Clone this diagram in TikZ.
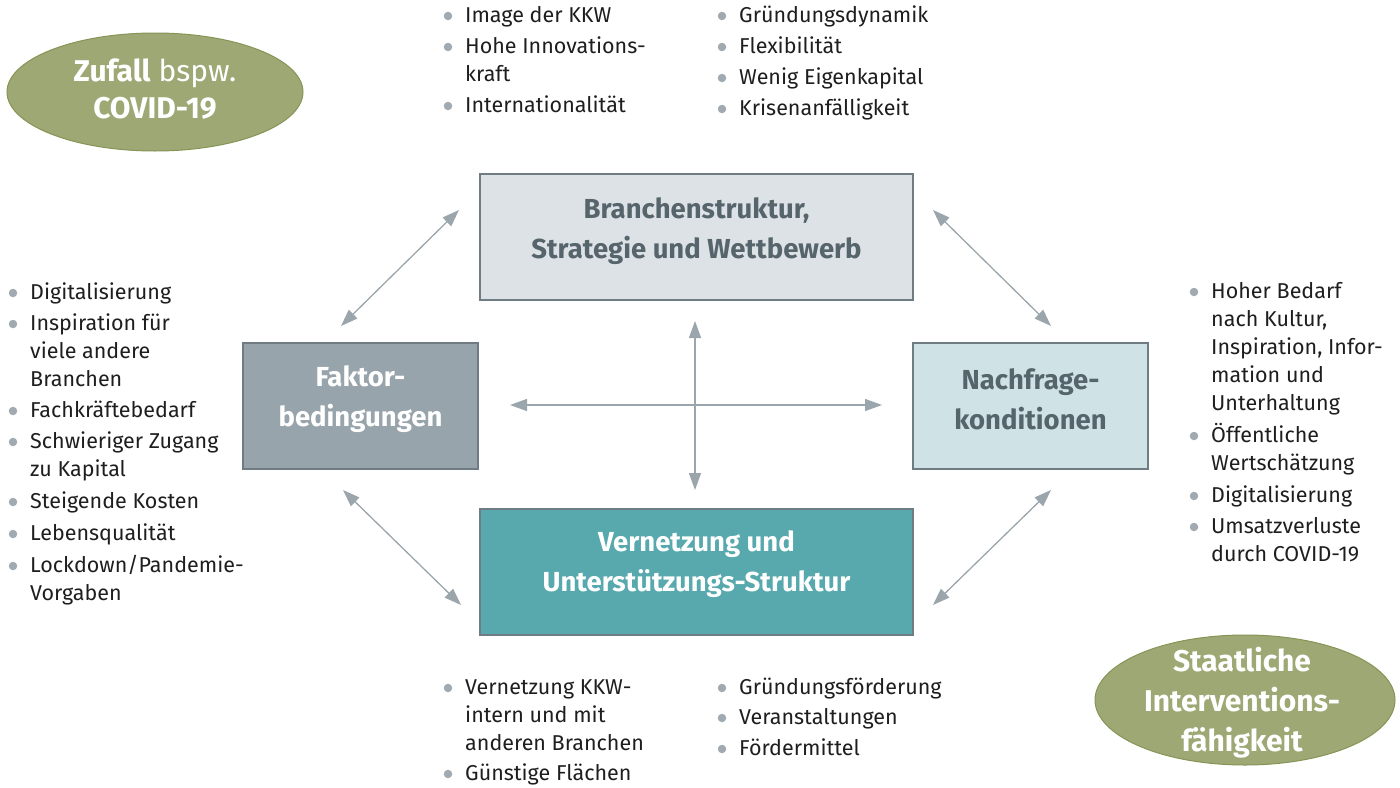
\documentclass[tikz,border=0pt]{standalone}
\usepackage{fontspec}
\setmainfont{Fira Sans}
\usetikzlibrary{arrows.meta,shapes.geometric}
\definecolor{arrowc}{HTML}{9AA5AC}
\definecolor{bulc}{HTML}{A0AAB0}
\definecolor{topfill}{HTML}{DDE2E6}
\definecolor{leftfill}{HTML}{98A4AB}
\definecolor{rightfill}{HTML}{CFE2E6}
\definecolor{botfill}{HTML}{57A9AE}
\definecolor{boxline}{HTML}{6F7C83}
\definecolor{boxtext}{HTML}{56646B}
\definecolor{ellfill}{HTML}{9EA874}
\definecolor{ellline}{HTML}{869455}
\definecolor{listtext}{HTML}{1E1E1E}
\newcommand\litem[4]{%
  \node[bul] (#1b) at ({#2-17},{#3+1}) {};
  \node[itm] (#1) at (#2,{#3+7-19.6}) {\strut #4};}
\tikzset{
  bul/.style={circle,fill=bulc,minimum size=8.5pt,inner sep=0pt},
  itm/.style={anchor=north west,inner sep=0pt,align=left,text=listtext,font=\fontsize{21.5}{28}\selectfont},
  porter/.style={draw=boxline,line width=1.2pt,minimum width=433pt,minimum height=126pt},
  smallbox/.style={porter,minimum width=235pt},
  boxlabel/.style={align=center,font=\fontsize{27.5}{40}\selectfont\bfseries},
  oval/.style={ellipse,draw=ellline,line width=1pt,fill=ellfill,inner sep=0pt},
  dbl/.style={arrowc,line width=1.3pt,{Triangle[length=17pt,width=12pt]}-{Triangle[length=17pt,width=12pt]}}
}
\begin{document}
\begin{tikzpicture}[x=1pt,y=-1pt]
\useasboundingbox (0,0) rectangle (1400,787);
% boxes
\node[porter,fill=topfill] (top) at (696.5,237) {};
\node[boxlabel,text=boxtext] (topt) at (696.5,231) {Branchenstruktur,\\Strategie und Wettbewerb};
\node[porter,fill=botfill] (bot) at (696.5,572) {};
\node[boxlabel,text=white] (bott) at (696.5,564) {Vernetzung und\\Unterstützungs-Struktur};
\node[smallbox,fill=leftfill] (left) at (360.5,406) {};
\node[boxlabel,text=white] (leftt) at (360.5,399) {Faktor-\\bedingungen};
\node[smallbox,fill=rightfill] (right) at (1030.5,406) {};
\node[boxlabel,text=boxtext] (rightt) at (1030.5,399) {Nachfrage-\\konditionen};
% ellipses
\node[oval,minimum width=296pt,minimum height=118pt] (zufall) at (155,92) {};
\node[text=white,align=center,font=\fontsize{30}{37}\selectfont] (zufallt) at (155,89) {\textbf{Zufall} bspw.\\\textbf{COVID-19}};
\node[oval,minimum width=300pt,minimum height=130pt] (staat) at (1245,700) {};
\node[text=white,align=center,font=\fontsize{30}{40}\selectfont\bfseries] (staatt) at (1242,703) {Staatliche\\Interventions-\\fähigkeit};
% arrow end points
\coordinate (tl1) at (459,210); \coordinate (tl2) at (341,326);
\coordinate (tr1) at (933,210); \coordinate (tr2) at (1051,326);
\coordinate (bl1) at (343,490); \coordinate (bl2) at (461,605);
\coordinate (br1) at (1051,490); \coordinate (br2) at (933,605);
\coordinate (h1) at (510,405); \coordinate (h2) at (882,405);
\coordinate (v1) at (695,321); \coordinate (v2) at (695,490);
\draw[dbl] (tl1) -- (tl2);
\draw[dbl] (tr1) -- (tr2);
\draw[dbl] (bl1) -- (bl2);
\draw[dbl] (br1) -- (br2);
\draw[dbl] (h1) -- (h2);
\draw[dbl] (v1) -- (v2);
% top lists
\litem{ta}{465}{15}{Image der KKW}
\litem{tb}{465}{46}{Hohe Innovations-\\kraft}
\litem{tc}{465}{105}{Internationalität}
\litem{td}{739}{15}{Gründungsdynamik}
\litem{te}{739}{46}{Flexibilität}
\litem{tf}{739}{77}{Wenig Eigenkapital}
\litem{tg}{739}{108}{Krisenanfälligkeit}
% left list
\litem{la}{30}{292}{Digitalisierung}
\litem{lb}{30}{323}{Inspiration für\\viele andere\\Branchen}
\litem{lc}{30}{410}{Fachkräftebedarf}
\litem{ld}{30}{441}{Schwieriger Zugang\\zu Kapital}
\litem{le}{30}{501}{Steigende Kosten}
\litem{lf}{30}{533}{Lebensqualität}
\litem{lg}{30}{565}{Lockdown/Pandemie-\\Vorgaben}
% right list
\litem{ra}{1211}{291}{Hoher Bedarf\\nach Kultur,\\Inspiration, Infor-\\mation und\\Unterhaltung}
\litem{rb}{1211}{435}{Öffentliche\\Wertschätzung}
\litem{rc}{1211}{495}{Digitalisierung}
\litem{rd}{1211}{526}{Umsatzverluste\\durch COVID-19}
% bottom lists
\litem{ba}{465}{687}{Vernetzung KKW-\\intern und mit\\anderen Branchen}
\litem{bb}{465}{773}{Günstige Flächen}
\litem{bc}{739}{687}{Gründungsförderung}
\litem{bd}{739}{717}{Veranstaltungen}
\litem{be}{739}{748}{Fördermittel}
\end{tikzpicture}
\end{document}
